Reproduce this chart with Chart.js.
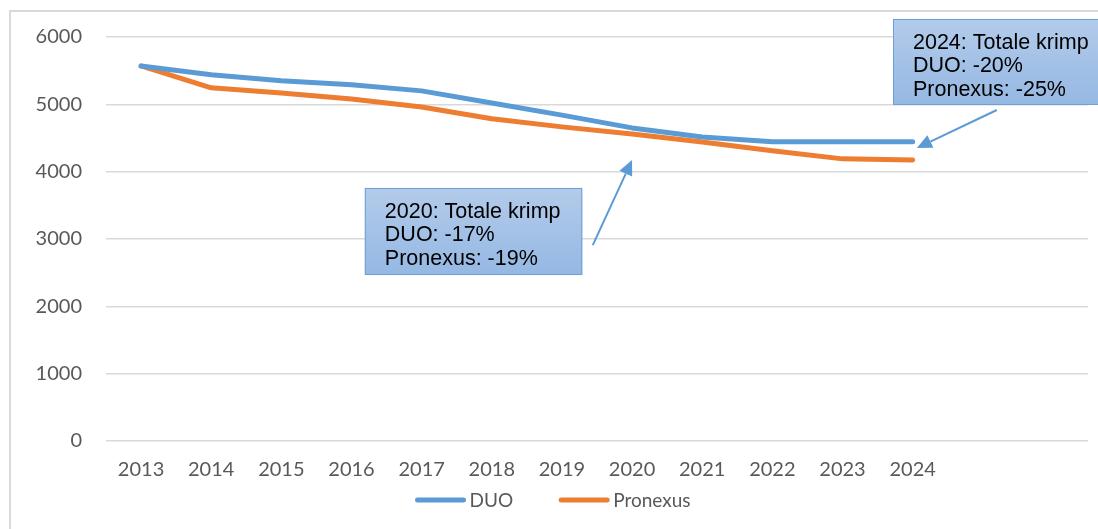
<!DOCTYPE html>
<html>
<head>
<meta charset="utf-8">
<script src="https://cdn.jsdelivr.net/npm/chart.js@4.4.1/dist/chart.umd.min.js"></script>
<style>
  html, body { margin: 0; padding: 0; background: #fff; }
  #wrap { position: relative; width: 1098px; height: 529px; overflow: hidden; }
  #frame { position: absolute; left: 9px; top: 10px; width: 1200px; height: 600px;
           border-left: 2px solid #d9d9d9; border-top: 2px solid #d9d9d9; }
  canvas { position: absolute; left: 0; top: 0; }
</style>
</head>
<body>
<div id="wrap">
  <div id="frame"></div>
  <canvas id="chart" width="1098" height="529"></canvas>
</div>
<script>
// jaren (laatste twee categorieën leeg, zoals in de grafiek)
const JAREN = ["2013","2014","2015","2016","2017","2018","2019","2020","2021","2022","2023","2024","",""];
const DUO      = [5570, 5440, 5350, 5290, 5200, 5020, 4840, 4650, 4515, 4445, 4445, 4445];
const PRONEXUS = [5570, 5245, 5170, 5080, 4960, 4785, 4665, 4560, 4440, 4310, 4190, 4175];
const Y_TICKS  = [0, 1000, 2000, 3000, 4000, 5000, 6000];

// annotaties in datacoördinaten (categorie-index, waarde)
const NOTES = [
  { lines: ["2020: Totale krimp", "DUO: -17%", "Pronexus: -19%"],
    box: [3.19, 3758, 6.29, 2465], from: [6.44, 2910], to: [7.0, 4173] },
  { lines: ["2024: Totale krimp", "DUO: -20%", "Pronexus: -25%"],
    box: [10.72, 6268, 13.7, 4990], from: [12.2, 4916], to: [11.06, 4352] },
];

const BLUE = "#5b9bd5", ORANGE = "#ed7d31", GRID = "#d9d9d9", TXT = "#595959";
const FONT = "Lato, 'Open Sans', sans-serif";

function arrow(ctx, x1, y1, x2, y2) {
  const a = Math.atan2(y2 - y1, x2 - x1), L = 15, W = 7;
  const bx = x2 - L * Math.cos(a), by = y2 - L * Math.sin(a);
  ctx.strokeStyle = BLUE; ctx.fillStyle = BLUE; ctx.lineWidth = 2;
  ctx.beginPath(); ctx.moveTo(x1, y1); ctx.lineTo(bx, by); ctx.stroke();
  ctx.beginPath();
  ctx.moveTo(x2, y2);
  ctx.lineTo(bx + W * Math.sin(a), by - W * Math.cos(a));
  ctx.lineTo(bx - W * Math.sin(a), by + W * Math.cos(a));
  ctx.closePath(); ctx.fill();
}

const notesPlugin = {
  id: "notes",
  afterDatasetsDraw(chart) {
    const { ctx, scales: { x, y } } = chart;
    const px = (i) => x.getPixelForValue(0) + i * (x.getPixelForValue(1) - x.getPixelForValue(0));
    ctx.save();
    NOTES.forEach((n) => {
      const l = px(n.box[0]), t = y.getPixelForValue(n.box[1]);
      const r = px(n.box[2]), b = y.getPixelForValue(n.box[3]);
      const g = ctx.createLinearGradient(0, t, 0, b);
      g.addColorStop(0, "#b3cbea"); g.addColorStop(1, "#95b8e3");
      ctx.fillStyle = g; ctx.fillRect(l, t, r - l, b - t);
      ctx.strokeStyle = "#6f9fd8"; ctx.lineWidth = 1;
      ctx.strokeRect(l + 0.5, t + 0.5, r - l - 1, b - t - 1);
      ctx.fillStyle = "#000"; ctx.font = "21.5px 'Liberation Sans', Arial, sans-serif";
      ctx.textBaseline = "middle"; ctx.textAlign = "left";
      n.lines.forEach((s, k) => ctx.fillText(s, l + 20, t + 24 + k * 23.5));
      arrow(ctx, px(n.from[0]), y.getPixelForValue(n.from[1]), px(n.to[0]), y.getPixelForValue(n.to[1]));
    });
    ctx.restore();
  },
};

// legenda zoals in Excel: korte lijn met tekst er direct achter
const legendPlugin = {
  id: "excelLegend",
  afterDraw(chart) {
    const { ctx, chartArea } = chart;
    const items = chart.data.datasets.map((d) => ({ text: d.label, color: d.borderColor }));
    ctx.save();
    ctx.font = `19px ${FONT}`;
    const sw = 50, gapTxt = 4, gapItem = 46;
    const total = items.reduce((s, it, i) => s + sw + gapTxt + ctx.measureText(it.text).width + (i ? gapItem : 0), 0);
    let xx = (chartArea.left + chartArea.right) / 2 - total / 2 - 44;
    const yy = 500;
    items.forEach((it) => {
      ctx.strokeStyle = it.color; ctx.lineWidth = 5; ctx.lineCap = "round";
      ctx.beginPath(); ctx.moveTo(xx + 2, yy); ctx.lineTo(xx + sw - 2, yy); ctx.stroke();
      ctx.fillStyle = TXT; ctx.textBaseline = "middle"; ctx.textAlign = "left";
      ctx.fillText(it.text, xx + sw + gapTxt, yy + 1);
      xx += sw + gapTxt + ctx.measureText(it.text).width + gapItem;
    });
    ctx.restore();
  },
};

const lineDs = (label, data, color) => ({
  label, data, borderColor: color, backgroundColor: color,
  borderWidth: 5, pointRadius: 0, tension: 0, borderCapStyle: "round", borderJoinStyle: "round",
});

new Chart(document.getElementById("chart"), {
  type: "line",
  data: { labels: JAREN, datasets: [lineDs("DUO", DUO, BLUE), lineDs("Pronexus", PRONEXUS, ORANGE)] },
  options: {
    responsive: false, animation: false,
    layout: { padding: { top: 37, right: 10, bottom: 48, left: 0 } },
    plugins: { tooltip: { enabled: false }, legend: { display: false } },
    scales: {
      x: {
        offset: true,
        grid: { display: false, drawTicks: false },
        border: { display: false },
        ticks: { color: TXT, font: { family: FONT, size: 20 }, padding: 17, maxRotation: 0, autoSkip: false },
        afterFit: (s) => { s.height = 40; },
      },
      y: {
        min: 0, max: 6000,
        afterBuildTicks: (s) => { s.ticks = Y_TICKS.map((v) => ({ value: v })); },
        grid: { color: GRID, lineWidth: 1.5, drawTicks: false },
        border: { display: false },
        ticks: { color: TXT, font: { family: FONT, size: 20 }, padding: 24, callback: (v) => String(v) },
        afterFit: (s) => { s.width = 106; },
      },
    },
  },
  plugins: [notesPlugin, legendPlugin],
});
</script>
</body>
</html>
